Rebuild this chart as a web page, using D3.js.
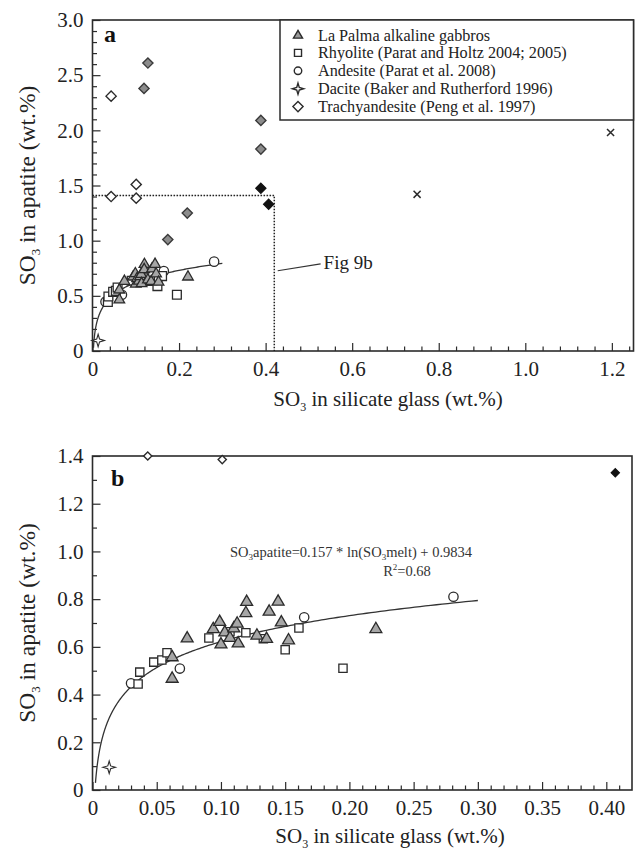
<!DOCTYPE html>
<html>
<head>
<meta charset="utf-8">
<script src="https://cdn.jsdelivr.net/npm/d3@7"></script>
<style>
  html, body { margin: 0; padding: 0; background: #fff; }
  svg { display: block; }
  svg text { font-family: "Liberation Serif", "Times New Roman", Times, "DejaVu Serif", serif; }
</style>
</head>
<body>
<svg id="chart" width="640" height="851"></svg>
<script>
// SO3 in apatite vs SO3 in silicate glass (wt.%)
const laPalma = [
  [0.062, 0.469], [0.062, 0.559], [0.0737, 0.638], [0.094, 0.677], [0.099, 0.707],
  [0.100, 0.613], [0.103, 0.663], [0.107, 0.640], [0.110, 0.680], [0.1126, 0.700],
  [0.1134, 0.617], [0.120, 0.791], [0.1194, 0.744], [0.128, 0.650], [0.1355, 0.636],
  [0.1375, 0.750], [0.1445, 0.792], [0.147, 0.705], [0.1526, 0.630], [0.2206, 0.677]
];
const rhyolite = [
  [0.0355, 0.444], [0.0368, 0.494], [0.0477, 0.536], [0.054, 0.545], [0.058, 0.575],
  [0.0906, 0.637], [0.107, 0.663], [0.1194, 0.659], [0.133, 0.634], [0.150, 0.588],
  [0.1607, 0.679], [0.195, 0.510]
];
const andesite = [[0.030, 0.447], [0.068, 0.509], [0.1648, 0.724], [0.281, 0.810]];
const dacite = [[0.013, 0.095]];
const trachyandesite = [[0.043, 2.31], [0.043, 1.40], [0.101, 1.51], [0.101, 1.385]];
const grayDiamonds = [[0.119, 2.38], [0.128, 2.61], [0.389, 2.09], [0.389, 1.83], [0.219, 1.25], [0.174, 1.01]];
const blackDiamonds = [[0.389, 1.475], [0.407, 1.33]];
const crossPoints = [[0.75, 1.42], [1.197, 1.98]];

const legendLabels = [
  "La Palma alkaline gabbros",
  "Rhyolite (Parat and Holtz 2004; 2005)",
  "Andesite (Parat et al. 2008)",
  "Dacite (Baker and Rutherford 1996)",
  "Trachyandesite (Peng et al. 1997)"
];

// logarithmic fit stated on panel b
const fitSlope = 0.157, fitIntercept = 0.9834, fitR2 = "0.68";
const fitRange = [0.0023, 0.30];

// tick values
const xTicksA = [0, 0.2, 0.4, 0.6, 0.8, 1.0, 1.2];
const yTicksA = [0, 0.5, 1.0, 1.5, 2.0, 2.5, 3.0];
const xTicksB = [0, 0.05, 0.10, 0.15, 0.20, 0.25, 0.30, 0.35, 0.40];
const yTicksB = [0, 0.2, 0.4, 0.6, 0.8, 1.0, 1.2, 1.4];
// zoom window of panel b, outlined in panel a
const zoomBox = [0.42, 1.41];

const FONT = '"Liberation Serif", "Times New Roman", Times, "DejaVu Serif", serif';
const svg = d3.select("#chart");
const ink = "#2b2b2b";

// ---------- symbol shapes ----------
const star4 = {
  draw(ctx, size) {
    const r = Math.sqrt(size) * 0.75, ri = r * 0.32;
    for (let i = 0; i < 8; i++) {
      const a = i * Math.PI / 4 - Math.PI / 2;
      const rr = i % 2 === 0 ? r : ri;
      const x = rr * Math.cos(a), y = rr * Math.sin(a);
      i === 0 ? ctx.moveTo(x, y) : ctx.lineTo(x, y);
    }
    ctx.closePath();
  }
};
const diamond = {
  draw(ctx, size) {
    const h = Math.sqrt(size) * 0.72;
    ctx.moveTo(0, -h); ctx.lineTo(h, 0); ctx.lineTo(0, h); ctx.lineTo(-h, 0); ctx.closePath();
  }
};
const cross = {
  draw(ctx, size) {
    const h = Math.sqrt(size) / 2;
    ctx.moveTo(-h, -h); ctx.lineTo(h, h); ctx.moveTo(h, -h); ctx.lineTo(-h, h);
  }
};
const triangle = {
  draw(ctx, size) {
    const s = Math.sqrt(size);          // side length
    const h = s * Math.sqrt(3) / 2;
    ctx.moveTo(0, -h * 0.6); ctx.lineTo(s / 2, h * 0.4); ctx.lineTo(-s / 2, h * 0.4); ctx.closePath();
  }
};

function styleFor(kind, scale) {
  const k = scale;
  switch (kind) {
    case "tri": return { type: triangle, size: 150 * k, fill: "#a6a6a6", stroke: ink, sw: 1.3 };
    case "sq": return { type: d3.symbolSquare, size: 62 * k, fill: "#fff", stroke: ink, sw: 1.3 };
    case "circ": return { type: d3.symbolCircle, size: 55 * k, fill: "#fff", stroke: ink, sw: 1.3 };
    case "star": return { type: star4, size: 70 * k, fill: "#fff", stroke: ink, sw: 1.1 };
    case "dia": return { type: diamond, size: 50 * k, fill: "#fff", stroke: ink, sw: 1.4 };
    case "gdia": return { type: diamond, size: 50 * k, fill: "#8c8c8c", stroke: "#3a3a3a", sw: 1.4 };
    case "bdia": return { type: diamond, size: 50 * k, fill: "#111", stroke: "#111", sw: 1.2 };
    case "x": return { type: cross, size: 50 * k, fill: "none", stroke: ink, sw: 1.5 };
  }
}

function drawPoints(g, data, kind, x, y, scale) {
  const st = styleFor(kind, scale);
  const sym = d3.symbol().type(st.type).size(st.size);
  g.selectAll(null).data(data).join("path")
    .attr("d", sym)
    .attr("transform", d => `translate(${x(d[0])},${y(d[1])})`)
    .attr("fill", st.fill).attr("stroke", st.stroke).attr("stroke-width", st.sw)
    .attr("stroke-linejoin", "miter");
}

function fmtTick(d, digits) { return d === 0 ? "0" : d.toFixed(digits); }

function drawAxes(x, y, opts) {
  const g = svg.append("g");
  const [x0, x1] = x.range(), [y0, y1] = y.range();
  // minor ticks
  g.append("g").attr("transform", `translate(0,${y0})`)
    .call(d3.axisBottom(x).tickValues(opts.xMinor).tickSize(-4.5).tickFormat(""))
    .call(a => a.select(".domain").remove());
  g.append("g").attr("transform", `translate(${x0},0)`)
    .call(d3.axisLeft(y).tickValues(opts.yMinor).tickSize(-4.5).tickFormat(""))
    .call(a => a.select(".domain").remove());
  // major ticks with labels
  const xa = g.append("g").attr("transform", `translate(0,${y0})`)
    .call(d3.axisBottom(x).tickValues(opts.xTicks).tickSize(-8).tickPadding(10)
      .tickFormat(d => fmtTick(d, opts.xDigits)));
  xa.select(".domain").remove();
  const ya = g.append("g").attr("transform", `translate(${x0},0)`)
    .call(d3.axisLeft(y).tickValues(opts.yTicks).tickSize(-8).tickPadding(9)
      .tickFormat(d => fmtTick(d, 1)));
  ya.select(".domain").remove();
  g.selectAll("g").attr("font-family", FONT);
  g.selectAll(".tick line").attr("stroke", ink).attr("stroke-width", 1.2);
  g.selectAll(".tick text").attr("font-family", FONT).attr("font-size", 21)
    .attr("fill", "#222");
  // frame
  g.append("rect").attr("x", x0).attr("y", y1).attr("width", x1 - x0).attr("height", y0 - y1)
    .attr("fill", "none").attr("stroke", ink).attr("stroke-width", 1.6);
  return g;
}

function axisTitles(x, y, xTitleY, xTitleX) {
  const [y0, y1] = y.range();
  const xt = svg.append("text").attr("x", xTitleX).attr("y", xTitleY).attr("font-family", FONT)
    .attr("text-anchor", "middle").attr("font-size", 21).attr("fill", "#222");
  xt.append("tspan").text("SO");
  xt.append("tspan").text("3").attr("font-size", 12).attr("dy", 5);
  xt.append("tspan").text(" in silicate glass (wt.%)").attr("dy", -5);
  const yt = svg.append("text").attr("font-family", FONT)
    .attr("transform", `translate(35,${(y0 + y1) / 2}) rotate(-90)`)
    .attr("text-anchor", "middle").attr("font-size", 23.5).attr("fill", "#222");
  yt.append("tspan").text("SO");
  yt.append("tspan").text("3").attr("font-size", 13).attr("dy", 5);
  yt.append("tspan").text(" in apatite (wt.%)").attr("dy", -5);
}

const fitLine = (x, y) => d3.line()
  .x(d => x(d)).y(d => y(fitSlope * Math.log(d) + fitIntercept));
const fitXs = d3.range(0, 301).map(i => fitRange[0] * Math.pow(fitRange[1] / fitRange[0], i / 300));

// ================= panel a =================
const xA = d3.scaleLinear().domain([0, 1.25]).range([92.5, 633.5]);
const yA = d3.scaleLinear().domain([0, 3]).range([351, 20]);

drawAxes(xA, yA, {
  xTicks: xTicksA, xDigits: 1,
  xMinor: d3.range(0, 1.25, 0.04).filter(v => Math.abs(v / 0.2 - Math.round(v / 0.2)) > 1e-6),
  yTicks: yTicksA,
  yMinor: d3.range(0.1, 3.0, 0.1).filter(v => Math.abs(v / 0.5 - Math.round(v / 0.5)) > 1e-6)
});
axisTitles(xA, yA, 406, 388);

// dotted outline of the zoom window
svg.append("path")
  .attr("d", `M${xA(0)},${yA(zoomBox[1])}H${xA(zoomBox[0])}V${yA(0)}`)
  .attr("fill", "none").attr("stroke", "#222").attr("stroke-width", 1.5)
  .attr("stroke-dasharray", "1.6,1.4");

// leader and label
svg.append("line")
  .attr("x1", xA(0.428)).attr("y1", yA(0.728)).attr("x2", xA(0.527)).attr("y2", yA(0.79))
  .attr("stroke", "#333").attr("stroke-width", 1.1);
svg.append("text").attr("x", xA(0.534)).attr("y", yA(0.74)).attr("font-family", FONT)
  .attr("font-size", 19).attr("fill", "#222").text("Fig 9b");

svg.append("path").datum(fitXs).attr("d", fitLine(xA, yA))
  .attr("fill", "none").attr("stroke", "#333").attr("stroke-width", 1.3);

const gA = svg.append("g");
drawPoints(gA, crossPoints, "x", xA, yA, 1);
drawPoints(gA, grayDiamonds, "gdia", xA, yA, 1);
drawPoints(gA, blackDiamonds, "bdia", xA, yA, 1);
drawPoints(gA, trachyandesite, "dia", xA, yA, 1);
drawPoints(gA, dacite, "star", xA, yA, 1);
drawPoints(gA, andesite, "circ", xA, yA, 1.25);
drawPoints(gA, rhyolite, "sq", xA, yA, 1.25);
drawPoints(gA, laPalma, "tri", xA, yA, 0.75);

svg.append("text").attr("x", 104).attr("y", 42).attr("font-size", 24).attr("font-family", FONT)
  .attr("font-weight", "bold").attr("fill", "#111").text("a");

// legend
const leg = svg.append("g");
leg.append("rect").attr("x", 280).attr("y", 20).attr("width", 633.5 - 280).attr("height", 100)
  .attr("fill", "#fff").attr("stroke", ink).attr("stroke-width", 1.5);
const legKinds = ["tri", "sq", "circ", "star", "dia"];
const legScale = [0.55, 0.8, 0.8, 0.8, 1.0];
legendLabels.forEach((lab, i) => {
  const cy = 35 + i * 17.9;
  const st = styleFor(legKinds[i], legScale[i]);
  leg.append("path").attr("d", d3.symbol().type(st.type).size(st.size)())
    .attr("transform", `translate(298,${cy})`)
    .attr("fill", i === 0 ? "#9a9a9a" : st.fill).attr("stroke", st.stroke).attr("stroke-width", 1.4);
  leg.append("text").attr("x", 318).attr("y", cy + 5.5).attr("font-size", 16.2).attr("font-family", FONT)
    .attr("fill", "#222").text(lab);
});

// ================= panel b =================
const xB = d3.scaleLinear().domain([0, 0.42]).range([92.5, 632]);
const yB = d3.scaleLinear().domain([0, 1.4]).range([790, 456]);

drawAxes(xB, yB, {
  xTicks: xTicksB, xDigits: 2,
  xMinor: d3.range(0.01, 0.42, 0.01).filter(v => Math.abs(v / 0.05 - Math.round(v / 0.05)) > 1e-6),
  yTicks: yTicksB,
  yMinor: d3.range(0.1, 1.4, 0.2)
});
axisTitles(xB, yB, 843, 390);

svg.append("path").datum(fitXs).attr("d", fitLine(xB, yB))
  .attr("fill", "none").attr("stroke", "#333").attr("stroke-width", 1.3);

const inB = d => d[0] <= 0.42 && d[1] <= 1.4;
const gB = svg.append("g");
drawPoints(gB, blackDiamonds.filter(inB), "bdia", xB, yB, 0.65);
drawPoints(gB, trachyandesite.filter(inB), "dia", xB, yB, 0.65);
drawPoints(gB, dacite, "star", xB, yB, 1);
drawPoints(gB, andesite, "circ", xB, yB, 1.25);
drawPoints(gB, rhyolite, "sq", xB, yB, 1.1);
drawPoints(gB, laPalma, "tri", xB, yB, 0.95);

svg.append("text").attr("x", 111).attr("y", 486).attr("font-size", 24).attr("font-family", FONT)
  .attr("font-weight", "bold").attr("fill", "#111").text("b");

// equation
const eq = svg.append("text").attr("x", 230).attr("y", 557).attr("font-size", 14.5)
  .attr("font-family", FONT).attr("fill", "#333");
eq.append("tspan").text("SO");
eq.append("tspan").text("3").attr("font-size", 9).attr("dy", 3);
eq.append("tspan").text(`apatite=${fitSlope} * ln(SO`).attr("dy", -3);
eq.append("tspan").text("3").attr("font-size", 9).attr("dy", 3);
eq.append("tspan").text(`melt) + ${fitIntercept}`).attr("dy", -3);
const r2 = svg.append("text").attr("x", 407).attr("y", 576).attr("text-anchor", "middle")
  .attr("font-family", FONT).attr("font-size", 14.5).attr("fill", "#333");
r2.append("tspan").text("R");
r2.append("tspan").text("2").attr("font-size", 9).attr("dy", -6);
r2.append("tspan").text(`=${fitR2}`).attr("dy", 6);
</script>
</body>
</html>
